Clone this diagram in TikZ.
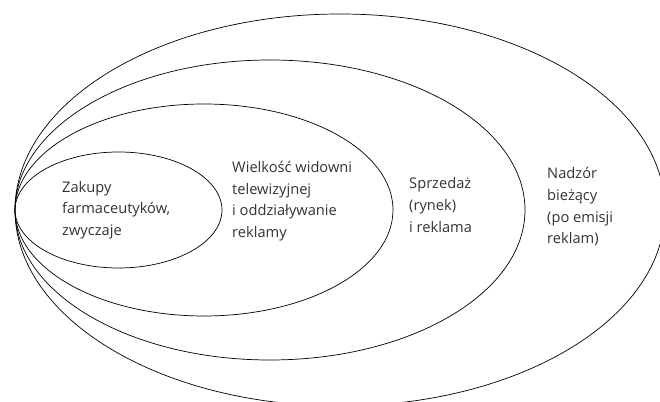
\documentclass[tikz,border=0pt]{standalone}
\usepackage{fontspec}
\setmainfont{Open Sans}
\usepackage{tikz}
\usetikzlibrary{positioning}
\tikzset{ring/.style = {line width = 0.6pt}}
\tikzset{lbl/.style = {anchor = west, align = left, inner sep = 0, text = black!80,
                       font = \fontsize{12.5}{18.5}\selectfont}}

\begin{document}
\begin{tikzpicture}[x=0.03cm, y=-0.03cm]
    \useasboundingbox (0, 0) rectangle (660, 402);
    \clip (0, 0) rectangle (660, 402);

    \draw [ring] (118.5, 210) ellipse (103.5 and 58);
    \draw [ring] (204, 210) ellipse (189 and 106);
    \draw [ring] (270, 210) ellipse (255 and 150);
    \draw [ring] (340, 210) ellipse (325 and 196);

    \node [lbl] (zakupy) at (62, 210) {Zakupy\\farmaceutyków,\\zwyczaje};
    \node [lbl] (widownia) at (232, 201) {Wielkość widowni\\telewizyjnej\\i oddziaływanie\\reklamy};
    \node [lbl] (sprzedaz) at (409, 205) {Sprzedaż\\(rynek)\\i reklama};
    \node [lbl] (nadzor) at (547, 207) {Nadzór\\bieżący\\(po emisji\\reklam)};
\end{tikzpicture}
\end{document}
